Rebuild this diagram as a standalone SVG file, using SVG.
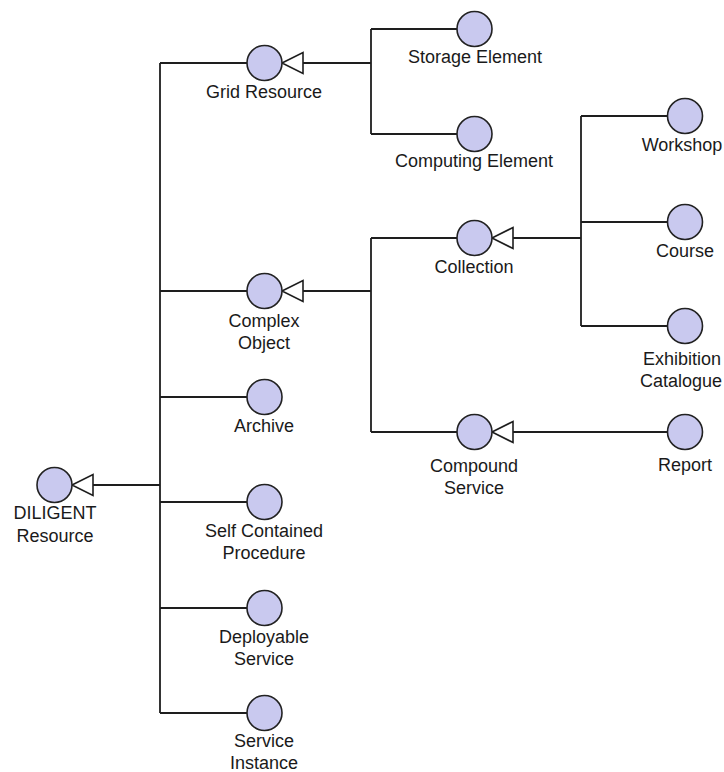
<svg xmlns="http://www.w3.org/2000/svg" width="724" height="772" viewBox="0 0 724 772">
  <style>
    .bg { fill: #ffffff; }
    .node circle { fill: #c9c9ef; stroke: #222222; stroke-width: 1.6; }
    .node text { font-family: "Liberation Sans", Arial, sans-serif; font-size: 18px; fill: #1a1a1a; text-anchor: middle; }
    .wire { fill: none; stroke: #1e1e1e; stroke-width: 1.8; }
    .gen { fill: #ffffff; stroke: #1e1e1e; stroke-width: 1.6; stroke-linejoin: miter; }
  </style>
  <defs>
    <!-- hollow generalization head, tip at origin, pointing left -->
    <polygon id="genHead" class="gen" points="0,0 21,-10.5 21,10.5"/>
  </defs>
  <rect class="bg" x="0" y="0" width="724" height="772"/>

  <g id="connectors">
    <!-- DILIGENT Resource hierarchy trunk -->
    <path class="wire" d="M92,485 H160 M160,63 V713 M160,63 H247 M160,291 H247 M160,397 H247 M160,502 H247 M160,608 H247 M160,713 H247"/>
    <!-- Grid Resource subtypes -->
    <path class="wire" d="M303,63 H371 M371,29 V134 M371,29 H457 M371,134 H457"/>
    <!-- Complex Object subtypes -->
    <path class="wire" d="M302,291 H371 M371,238 V432 M371,238 H457 M371,432 H457"/>
    <!-- Collection subtypes -->
    <path class="wire" d="M512,238 H581 M581,116 V326 M581,116 H667 M581,222 H667 M581,326 H667"/>
    <!-- Compound Service subtype -->
    <path class="wire" d="M512,432 H667"/>
    <use href="#genHead" x="72" y="485"/>
    <use href="#genHead" x="282" y="63"/>
    <use href="#genHead" x="282" y="291"/>
    <use href="#genHead" x="492" y="238"/>
    <use href="#genHead" x="492" y="432"/>
  </g>

  <g id="diligent-resource" class="node">
    <circle cx="54.5" cy="485" r="17.5"/>
    <text x="55" y="519">DILIGENT</text>
    <text x="55" y="542">Resource</text>
  </g>
  <g id="grid-resource" class="node">
    <circle cx="264.5" cy="63" r="17.5"/>
    <text x="264" y="98">Grid Resource</text>
  </g>
  <g id="storage-element" class="node">
    <circle cx="474.5" cy="29" r="17.5"/>
    <text x="475" y="63">Storage Element</text>
  </g>
  <g id="computing-element" class="node">
    <circle cx="474.5" cy="134" r="17.5"/>
    <text x="474" y="167">Computing Element</text>
  </g>
  <g id="complex-object" class="node">
    <circle cx="264.5" cy="291" r="17.5"/>
    <text x="264" y="327">Complex</text>
    <text x="264" y="349">Object</text>
  </g>
  <g id="archive" class="node">
    <circle cx="264.5" cy="397" r="17.5"/>
    <text x="264" y="432">Archive</text>
  </g>
  <g id="self-contained-procedure" class="node">
    <circle cx="264.5" cy="502" r="17.5"/>
    <text x="264" y="537">Self Contained</text>
    <text x="264" y="559">Procedure</text>
  </g>
  <g id="deployable-service" class="node">
    <circle cx="264.5" cy="608" r="17.5"/>
    <text x="264" y="643">Deployable</text>
    <text x="264" y="665">Service</text>
  </g>
  <g id="service-instance" class="node">
    <circle cx="264.5" cy="713" r="17.5"/>
    <text x="264" y="747">Service</text>
    <text x="264" y="769">Instance</text>
  </g>
  <g id="collection" class="node">
    <circle cx="474.5" cy="238" r="17.5"/>
    <text x="474" y="273">Collection</text>
  </g>
  <g id="compound-service" class="node">
    <circle cx="474.5" cy="432" r="17.5"/>
    <text x="474" y="472">Compound</text>
    <text x="474" y="494">Service</text>
  </g>
  <g id="workshop" class="node">
    <circle cx="685" cy="116" r="17.5"/>
    <text x="682" y="151">Workshop</text>
  </g>
  <g id="course" class="node">
    <circle cx="685" cy="222" r="17.5"/>
    <text x="685" y="257">Course</text>
  </g>
  <g id="exhibition-catalogue" class="node">
    <circle cx="685" cy="326" r="17.5"/>
    <text x="682" y="365">Exhibition</text>
    <text x="681" y="387">Catalogue</text>
  </g>
  <g id="report" class="node">
    <circle cx="685" cy="432" r="17.5"/>
    <text x="685" y="471">Report</text>
  </g>
</svg>
